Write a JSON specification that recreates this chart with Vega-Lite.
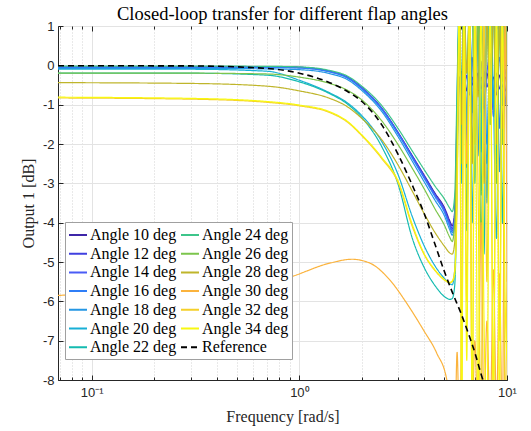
{
  "$schema": "https://vega.github.io/schema/vega-lite/v6.json",
  "width": 449,
  "height": 354,
  "autosize": "none",
  "padding": {"left": 58, "top": 26, "right": 24, "bottom": 51},
  "background": "white",
  "title": {"text": "Closed-loop transfer for different flap angles", "font": "Liberation Serif", "fontSize": 18.5, "fontWeight": "normal", "color": "#000000", "offset": 5, "dy": 8},
  "data": {"values": [
    {"s":"Angle 10 deg","f":0.0688,"v":-0.03},{"s":"Angle 10 deg","f":0.3,"v":-0.03},{"s":"Angle 10 deg","f":0.7,"v":-0.035},{"s":"Angle 10 deg","f":1.0,"v":-0.05},{"s":"Angle 10 deg","f":1.4,"v":-0.15},{"s":"Angle 10 deg","f":1.7,"v":-0.3},{"s":"Angle 10 deg","f":2.0,"v":-0.57},{"s":"Angle 10 deg","f":2.5,"v":-1.1},{"s":"Angle 10 deg","f":3.0,"v":-1.72},{"s":"Angle 10 deg","f":3.5,"v":-2.3},{"s":"Angle 10 deg","f":4.0,"v":-2.8},{"s":"Angle 10 deg","f":4.5,"v":-3.25},{"s":"Angle 10 deg","f":5.0,"v":-3.62},{"s":"Angle 10 deg","f":5.3,"v":-3.95},{"s":"Angle 10 deg","f":5.45,"v":-4.08},
    {"s":"Angle 10 deg","f":5.6,"v":-3.7},{"s":"Angle 10 deg","f":5.75,"v":-1.8},{"s":"Angle 10 deg","f":5.9,"v":-0.3},{"s":"Angle 10 deg","f":6.05,"v":-0.55},{"s":"Angle 10 deg","f":6.2,"v":-0.2},{"s":"Angle 10 deg","f":6.4,"v":-0.65},{"s":"Angle 10 deg","f":6.6,"v":-0.15},{"s":"Angle 10 deg","f":6.8,"v":-0.5},{"s":"Angle 10 deg","f":7.0,"v":-0.25},{"s":"Angle 10 deg","f":7.25,"v":-0.7},{"s":"Angle 10 deg","f":7.5,"v":-0.3},{"s":"Angle 10 deg","f":7.75,"v":-0.55},{"s":"Angle 10 deg","f":8.0,"v":-0.2},{"s":"Angle 10 deg","f":8.3,"v":-0.6},{"s":"Angle 10 deg","f":8.6,"v":-0.3},{"s":"Angle 10 deg","f":8.9,"v":-0.75},{"s":"Angle 10 deg","f":9.2,"v":-0.25},{"s":"Angle 10 deg","f":9.5,"v":-0.55},{"s":"Angle 10 deg","f":9.8,"v":-0.3},{"s":"Angle 10 deg","f":10.0,"v":-0.5},

    {"s":"Angle 12 deg","f":0.0688,"v":-0.03},{"s":"Angle 12 deg","f":0.3,"v":-0.03},{"s":"Angle 12 deg","f":0.7,"v":-0.035},{"s":"Angle 12 deg","f":1.0,"v":-0.05},{"s":"Angle 12 deg","f":1.4,"v":-0.15},{"s":"Angle 12 deg","f":1.7,"v":-0.3},{"s":"Angle 12 deg","f":2.0,"v":-0.57},{"s":"Angle 12 deg","f":2.5,"v":-1.1},{"s":"Angle 12 deg","f":3.0,"v":-1.73},{"s":"Angle 12 deg","f":3.5,"v":-2.31},{"s":"Angle 12 deg","f":4.0,"v":-2.82},{"s":"Angle 12 deg","f":4.5,"v":-3.28},{"s":"Angle 12 deg","f":5.0,"v":-3.66},{"s":"Angle 12 deg","f":5.3,"v":-4.0},{"s":"Angle 12 deg","f":5.45,"v":-4.15},
    {"s":"Angle 12 deg","f":5.6,"v":-3.8},{"s":"Angle 12 deg","f":5.75,"v":-2.0},{"s":"Angle 12 deg","f":5.9,"v":-0.5},{"s":"Angle 12 deg","f":6.05,"v":-0.15},{"s":"Angle 12 deg","f":6.2,"v":-0.7},{"s":"Angle 12 deg","f":6.4,"v":-0.25},{"s":"Angle 12 deg","f":6.6,"v":-0.75},{"s":"Angle 12 deg","f":6.8,"v":-0.3},{"s":"Angle 12 deg","f":7.0,"v":-0.7},{"s":"Angle 12 deg","f":7.25,"v":-0.2},{"s":"Angle 12 deg","f":7.5,"v":-0.6},{"s":"Angle 12 deg","f":7.75,"v":-0.15},{"s":"Angle 12 deg","f":8.0,"v":-0.55},{"s":"Angle 12 deg","f":8.3,"v":-0.25},{"s":"Angle 12 deg","f":8.6,"v":-0.7},{"s":"Angle 12 deg","f":8.9,"v":-0.2},{"s":"Angle 12 deg","f":9.2,"v":-0.6},{"s":"Angle 12 deg","f":9.5,"v":-0.3},{"s":"Angle 12 deg","f":9.8,"v":-0.65},{"s":"Angle 12 deg","f":10.0,"v":-0.4},

    {"s":"Angle 14 deg","f":0.0688,"v":-0.04},{"s":"Angle 14 deg","f":0.3,"v":-0.04},{"s":"Angle 14 deg","f":0.7,"v":-0.045},{"s":"Angle 14 deg","f":1.0,"v":-0.06},{"s":"Angle 14 deg","f":1.4,"v":-0.16},{"s":"Angle 14 deg","f":1.7,"v":-0.31},{"s":"Angle 14 deg","f":2.0,"v":-0.58},{"s":"Angle 14 deg","f":2.5,"v":-1.11},{"s":"Angle 14 deg","f":3.0,"v":-1.74},{"s":"Angle 14 deg","f":3.5,"v":-2.33},{"s":"Angle 14 deg","f":4.0,"v":-2.85},{"s":"Angle 14 deg","f":4.5,"v":-3.3},{"s":"Angle 14 deg","f":5.0,"v":-3.7},{"s":"Angle 14 deg","f":5.3,"v":-4.05},{"s":"Angle 14 deg","f":5.45,"v":-4.2},
    {"s":"Angle 14 deg","f":5.6,"v":-3.85},{"s":"Angle 14 deg","f":5.75,"v":-1.5},{"s":"Angle 14 deg","f":5.9,"v":0.3},{"s":"Angle 14 deg","f":6.05,"v":-0.9},{"s":"Angle 14 deg","f":6.2,"v":0.1},{"s":"Angle 14 deg","f":6.4,"v":-1.2},{"s":"Angle 14 deg","f":6.6,"v":-0.3},{"s":"Angle 14 deg","f":6.8,"v":0.2},{"s":"Angle 14 deg","f":7.0,"v":-1.4},{"s":"Angle 14 deg","f":7.25,"v":-0.4},{"s":"Angle 14 deg","f":7.5,"v":0.1},{"s":"Angle 14 deg","f":7.75,"v":-1.1},{"s":"Angle 14 deg","f":8.0,"v":-0.2},{"s":"Angle 14 deg","f":8.3,"v":0.3},{"s":"Angle 14 deg","f":8.6,"v":-1.3},{"s":"Angle 14 deg","f":8.9,"v":-0.5},{"s":"Angle 14 deg","f":9.2,"v":0.2},{"s":"Angle 14 deg","f":9.5,"v":-1.0},{"s":"Angle 14 deg","f":9.8,"v":-0.1},{"s":"Angle 14 deg","f":10.0,"v":-0.6},

    {"s":"Angle 16 deg","f":0.0688,"v":-0.05},{"s":"Angle 16 deg","f":0.3,"v":-0.05},{"s":"Angle 16 deg","f":0.7,"v":-0.055},{"s":"Angle 16 deg","f":1.0,"v":-0.07},{"s":"Angle 16 deg","f":1.4,"v":-0.17},{"s":"Angle 16 deg","f":1.7,"v":-0.32},{"s":"Angle 16 deg","f":2.0,"v":-0.6},{"s":"Angle 16 deg","f":2.5,"v":-1.13},{"s":"Angle 16 deg","f":3.0,"v":-1.76},{"s":"Angle 16 deg","f":3.5,"v":-2.36},{"s":"Angle 16 deg","f":4.0,"v":-2.88},{"s":"Angle 16 deg","f":4.5,"v":-3.34},{"s":"Angle 16 deg","f":5.0,"v":-3.74},{"s":"Angle 16 deg","f":5.3,"v":-4.1},{"s":"Angle 16 deg","f":5.45,"v":-4.25},
    {"s":"Angle 16 deg","f":5.6,"v":-3.9},{"s":"Angle 16 deg","f":5.75,"v":-1.2},{"s":"Angle 16 deg","f":5.9,"v":1.2},{"s":"Angle 16 deg","f":6.05,"v":-1.5},{"s":"Angle 16 deg","f":6.2,"v":0.6},{"s":"Angle 16 deg","f":6.4,"v":-1.9},{"s":"Angle 16 deg","f":6.6,"v":1.1},{"s":"Angle 16 deg","f":6.8,"v":-0.8},{"s":"Angle 16 deg","f":7.0,"v":-1.8},{"s":"Angle 16 deg","f":7.25,"v":0.8},{"s":"Angle 16 deg","f":7.5,"v":-1.2},{"s":"Angle 16 deg","f":7.75,"v":0.5},{"s":"Angle 16 deg","f":8.0,"v":-2.0},{"s":"Angle 16 deg","f":8.3,"v":0.2},{"s":"Angle 16 deg","f":8.6,"v":-0.9},{"s":"Angle 16 deg","f":8.9,"v":1.0},{"s":"Angle 16 deg","f":9.2,"v":-1.6},{"s":"Angle 16 deg","f":9.5,"v":0.4},{"s":"Angle 16 deg","f":9.8,"v":-1.0},{"s":"Angle 16 deg","f":10.0,"v":0.3},

    {"s":"Angle 18 deg","f":0.0688,"v":-0.08},{"s":"Angle 18 deg","f":0.3,"v":-0.08},{"s":"Angle 18 deg","f":0.7,"v":-0.09},{"s":"Angle 18 deg","f":1.0,"v":-0.11},{"s":"Angle 18 deg","f":1.4,"v":-0.21},{"s":"Angle 18 deg","f":1.7,"v":-0.36},{"s":"Angle 18 deg","f":2.0,"v":-0.64},{"s":"Angle 18 deg","f":2.5,"v":-1.18},{"s":"Angle 18 deg","f":3.0,"v":-1.83},{"s":"Angle 18 deg","f":3.5,"v":-2.44},{"s":"Angle 18 deg","f":4.0,"v":-2.97},{"s":"Angle 18 deg","f":4.5,"v":-3.43},{"s":"Angle 18 deg","f":5.0,"v":-3.83},{"s":"Angle 18 deg","f":5.3,"v":-4.18},{"s":"Angle 18 deg","f":5.45,"v":-4.32},
    {"s":"Angle 18 deg","f":5.6,"v":-3.95},{"s":"Angle 18 deg","f":5.75,"v":-0.8},{"s":"Angle 18 deg","f":5.9,"v":1.5},{"s":"Angle 18 deg","f":6.05,"v":-2.0},{"s":"Angle 18 deg","f":6.2,"v":0.8},{"s":"Angle 18 deg","f":6.4,"v":-2.6},{"s":"Angle 18 deg","f":6.6,"v":1.3},{"s":"Angle 18 deg","f":6.8,"v":-1.2},{"s":"Angle 18 deg","f":7.0,"v":0.5},{"s":"Angle 18 deg","f":7.25,"v":-2.3},{"s":"Angle 18 deg","f":7.5,"v":1.2},{"s":"Angle 18 deg","f":7.75,"v":-0.6},{"s":"Angle 18 deg","f":8.0,"v":-2.5},{"s":"Angle 18 deg","f":8.3,"v":0.9},{"s":"Angle 18 deg","f":8.6,"v":-1.0},{"s":"Angle 18 deg","f":8.9,"v":1.4},{"s":"Angle 18 deg","f":9.2,"v":-2.7},{"s":"Angle 18 deg","f":9.5,"v":0.2},{"s":"Angle 18 deg","f":9.8,"v":1.2},{"s":"Angle 18 deg","f":10.0,"v":-1.0},

    {"s":"Angle 20 deg","f":0.0688,"v":-0.1},{"s":"Angle 20 deg","f":0.3,"v":-0.1},{"s":"Angle 20 deg","f":0.7,"v":-0.15},{"s":"Angle 20 deg","f":1.0,"v":-0.38},{"s":"Angle 20 deg","f":1.4,"v":-0.7},{"s":"Angle 20 deg","f":1.7,"v":-0.95},{"s":"Angle 20 deg","f":2.0,"v":-1.28},{"s":"Angle 20 deg","f":2.5,"v":-1.95},{"s":"Angle 20 deg","f":3.0,"v":-2.8},{"s":"Angle 20 deg","f":3.5,"v":-3.85},{"s":"Angle 20 deg","f":4.0,"v":-4.6},{"s":"Angle 20 deg","f":4.5,"v":-5.1},{"s":"Angle 20 deg","f":5.0,"v":-5.42},{"s":"Angle 20 deg","f":5.3,"v":-5.55},{"s":"Angle 20 deg","f":5.45,"v":-5.58},
    {"s":"Angle 20 deg","f":5.6,"v":-5.2},{"s":"Angle 20 deg","f":5.75,"v":-2.5},{"s":"Angle 20 deg","f":5.9,"v":1.8},{"s":"Angle 20 deg","f":6.05,"v":-3.0},{"s":"Angle 20 deg","f":6.2,"v":1.5},{"s":"Angle 20 deg","f":6.4,"v":-1.5},{"s":"Angle 20 deg","f":6.6,"v":1.8},{"s":"Angle 20 deg","f":6.8,"v":-4.0},{"s":"Angle 20 deg","f":7.0,"v":0.5},{"s":"Angle 20 deg","f":7.25,"v":1.6},{"s":"Angle 20 deg","f":7.5,"v":-2.2},{"s":"Angle 20 deg","f":7.75,"v":1.5},{"s":"Angle 20 deg","f":8.0,"v":-3.5},{"s":"Angle 20 deg","f":8.3,"v":1.8},{"s":"Angle 20 deg","f":8.6,"v":-0.8},{"s":"Angle 20 deg","f":8.9,"v":-4.4},{"s":"Angle 20 deg","f":9.2,"v":1.6},{"s":"Angle 20 deg","f":9.5,"v":-1.0},{"s":"Angle 20 deg","f":9.8,"v":1.5},{"s":"Angle 20 deg","f":10.0,"v":-2.0},

    {"s":"Angle 22 deg","f":0.0688,"v":-0.2},{"s":"Angle 22 deg","f":0.3,"v":-0.2},{"s":"Angle 22 deg","f":0.7,"v":-0.25},{"s":"Angle 22 deg","f":1.0,"v":-0.42},{"s":"Angle 22 deg","f":1.4,"v":-0.72},{"s":"Angle 22 deg","f":1.7,"v":-0.98},{"s":"Angle 22 deg","f":2.0,"v":-1.33},{"s":"Angle 22 deg","f":2.5,"v":-2.08},{"s":"Angle 22 deg","f":3.0,"v":-3.05},{"s":"Angle 22 deg","f":3.5,"v":-4.4},{"s":"Angle 22 deg","f":4.0,"v":-5.15},{"s":"Angle 22 deg","f":4.5,"v":-5.6},{"s":"Angle 22 deg","f":5.0,"v":-5.88},{"s":"Angle 22 deg","f":5.3,"v":-5.95},{"s":"Angle 22 deg","f":5.45,"v":-5.93},
    {"s":"Angle 22 deg","f":5.6,"v":-5.6},{"s":"Angle 22 deg","f":5.75,"v":-3.0},{"s":"Angle 22 deg","f":5.9,"v":1.6},{"s":"Angle 22 deg","f":6.05,"v":-1.0},{"s":"Angle 22 deg","f":6.2,"v":2.0},{"s":"Angle 22 deg","f":6.4,"v":-4.2},{"s":"Angle 22 deg","f":6.6,"v":1.0},{"s":"Angle 22 deg","f":6.8,"v":1.8},{"s":"Angle 22 deg","f":7.0,"v":-3.0},{"s":"Angle 22 deg","f":7.25,"v":1.5},{"s":"Angle 22 deg","f":7.5,"v":-0.5},{"s":"Angle 22 deg","f":7.75,"v":-4.8},{"s":"Angle 22 deg","f":8.0,"v":1.7},{"s":"Angle 22 deg","f":8.3,"v":-1.5},{"s":"Angle 22 deg","f":8.6,"v":1.8},{"s":"Angle 22 deg","f":8.9,"v":-2.5},{"s":"Angle 22 deg","f":9.2,"v":1.5},{"s":"Angle 22 deg","f":9.5,"v":-4.0},{"s":"Angle 22 deg","f":9.8,"v":1.2},{"s":"Angle 22 deg","f":10.0,"v":0.0},

    {"s":"Angle 24 deg","f":0.0688,"v":-0.02},{"s":"Angle 24 deg","f":0.3,"v":-0.02},{"s":"Angle 24 deg","f":0.7,"v":-0.025},{"s":"Angle 24 deg","f":1.0,"v":-0.04},{"s":"Angle 24 deg","f":1.4,"v":-0.13},{"s":"Angle 24 deg","f":1.7,"v":-0.27},{"s":"Angle 24 deg","f":2.0,"v":-0.53},{"s":"Angle 24 deg","f":2.5,"v":-1.03},{"s":"Angle 24 deg","f":3.0,"v":-1.62},{"s":"Angle 24 deg","f":3.5,"v":-2.18},{"s":"Angle 24 deg","f":4.0,"v":-2.66},{"s":"Angle 24 deg","f":4.5,"v":-3.07},{"s":"Angle 24 deg","f":5.0,"v":-3.4},{"s":"Angle 24 deg","f":5.3,"v":-3.63},{"s":"Angle 24 deg","f":5.45,"v":-3.72},
    {"s":"Angle 24 deg","f":5.6,"v":-3.3},{"s":"Angle 24 deg","f":5.75,"v":-0.5},{"s":"Angle 24 deg","f":5.9,"v":1.8},{"s":"Angle 24 deg","f":6.05,"v":-1.0},{"s":"Angle 24 deg","f":6.2,"v":2.0},{"s":"Angle 24 deg","f":6.4,"v":-0.2},{"s":"Angle 24 deg","f":6.6,"v":1.5},{"s":"Angle 24 deg","f":6.8,"v":-2.2},{"s":"Angle 24 deg","f":7.0,"v":0.8},{"s":"Angle 24 deg","f":7.25,"v":1.8},{"s":"Angle 24 deg","f":7.5,"v":-3.3},{"s":"Angle 24 deg","f":7.75,"v":1.0},{"s":"Angle 24 deg","f":8.0,"v":1.5},{"s":"Angle 24 deg","f":8.3,"v":-0.6},{"s":"Angle 24 deg","f":8.6,"v":1.6},{"s":"Angle 24 deg","f":8.9,"v":-1.8},{"s":"Angle 24 deg","f":9.2,"v":2.0},{"s":"Angle 24 deg","f":9.5,"v":-0.4},{"s":"Angle 24 deg","f":9.8,"v":1.5},{"s":"Angle 24 deg","f":10.0,"v":-0.8},

    {"s":"Angle 26 deg","f":0.0688,"v":-0.2},{"s":"Angle 26 deg","f":0.3,"v":-0.2},{"s":"Angle 26 deg","f":0.7,"v":-0.22},{"s":"Angle 26 deg","f":1.0,"v":-0.3},{"s":"Angle 26 deg","f":1.4,"v":-0.46},{"s":"Angle 26 deg","f":1.7,"v":-0.63},{"s":"Angle 26 deg","f":2.0,"v":-0.88},{"s":"Angle 26 deg","f":2.5,"v":-1.42},{"s":"Angle 26 deg","f":3.0,"v":-2.03},{"s":"Angle 26 deg","f":3.5,"v":-2.62},{"s":"Angle 26 deg","f":4.0,"v":-3.15},{"s":"Angle 26 deg","f":4.5,"v":-3.65},{"s":"Angle 26 deg","f":5.0,"v":-4.07},{"s":"Angle 26 deg","f":5.3,"v":-4.37},{"s":"Angle 26 deg","f":5.45,"v":-4.48},
    {"s":"Angle 26 deg","f":5.6,"v":-4.0},{"s":"Angle 26 deg","f":5.75,"v":-1.8},{"s":"Angle 26 deg","f":5.9,"v":1.5},{"s":"Angle 26 deg","f":6.05,"v":-2.5},{"s":"Angle 26 deg","f":6.2,"v":1.2},{"s":"Angle 26 deg","f":6.4,"v":-4.0},{"s":"Angle 26 deg","f":6.6,"v":0.8},{"s":"Angle 26 deg","f":6.8,"v":1.6},{"s":"Angle 26 deg","f":7.0,"v":-2.0},{"s":"Angle 26 deg","f":7.25,"v":1.2},{"s":"Angle 26 deg","f":7.5,"v":-4.5},{"s":"Angle 26 deg","f":7.75,"v":0.5},{"s":"Angle 26 deg","f":8.0,"v":1.4},{"s":"Angle 26 deg","f":8.3,"v":-1.5},{"s":"Angle 26 deg","f":8.6,"v":1.6},{"s":"Angle 26 deg","f":8.9,"v":-3.0},{"s":"Angle 26 deg","f":9.2,"v":1.0},{"s":"Angle 26 deg","f":9.5,"v":-2.0},{"s":"Angle 26 deg","f":9.8,"v":1.4},{"s":"Angle 26 deg","f":10.0,"v":-1.0},

    {"s":"Angle 28 deg","f":0.0688,"v":-0.44},{"s":"Angle 28 deg","f":0.3,"v":-0.46},{"s":"Angle 28 deg","f":0.7,"v":-0.53},{"s":"Angle 28 deg","f":1.0,"v":-0.65},{"s":"Angle 28 deg","f":1.4,"v":-0.84},{"s":"Angle 28 deg","f":1.7,"v":-1.05},{"s":"Angle 28 deg","f":2.0,"v":-1.35},{"s":"Angle 28 deg","f":2.5,"v":-1.9},{"s":"Angle 28 deg","f":3.0,"v":-2.55},{"s":"Angle 28 deg","f":3.5,"v":-3.2},{"s":"Angle 28 deg","f":4.0,"v":-3.78},{"s":"Angle 28 deg","f":4.5,"v":-4.25},{"s":"Angle 28 deg","f":5.0,"v":-4.6},{"s":"Angle 28 deg","f":5.3,"v":-4.77},{"s":"Angle 28 deg","f":5.45,"v":-4.8},
    {"s":"Angle 28 deg","f":5.6,"v":-4.5},{"s":"Angle 28 deg","f":5.75,"v":-2.0},{"s":"Angle 28 deg","f":5.9,"v":1.4},{"s":"Angle 28 deg","f":6.05,"v":-1.5},{"s":"Angle 28 deg","f":6.2,"v":1.6},{"s":"Angle 28 deg","f":6.4,"v":-0.2},{"s":"Angle 28 deg","f":6.6,"v":1.5},{"s":"Angle 28 deg","f":6.8,"v":-2.5},{"s":"Angle 28 deg","f":7.0,"v":1.3},{"s":"Angle 28 deg","f":7.25,"v":-0.8},{"s":"Angle 28 deg","f":7.5,"v":1.6},{"s":"Angle 28 deg","f":7.75,"v":-3.0},{"s":"Angle 28 deg","f":8.0,"v":1.2},{"s":"Angle 28 deg","f":8.3,"v":-1.2},{"s":"Angle 28 deg","f":8.6,"v":1.5},{"s":"Angle 28 deg","f":8.9,"v":-2.0},{"s":"Angle 28 deg","f":9.2,"v":1.2},{"s":"Angle 28 deg","f":9.5,"v":-1.6},{"s":"Angle 28 deg","f":9.8,"v":1.3},{"s":"Angle 28 deg","f":10.0,"v":-1.0},

    {"s":"Angle 30 deg","f":0.0688,"v":-5.85},{"s":"Angle 30 deg","f":0.15,"v":-5.76},{"s":"Angle 30 deg","f":0.3,"v":-5.66},{"s":"Angle 30 deg","f":0.5,"v":-5.56},{"s":"Angle 30 deg","f":0.85,"v":-5.42},{"s":"Angle 30 deg","f":1.4,"v":-5.03},{"s":"Angle 30 deg","f":1.79,"v":-4.93},{"s":"Angle 30 deg","f":2.19,"v":-5.03},{"s":"Angle 30 deg","f":2.73,"v":-5.46},{"s":"Angle 30 deg","f":3.29,"v":-6.05},{"s":"Angle 30 deg","f":3.96,"v":-6.73},{"s":"Angle 30 deg","f":4.59,"v":-7.32},{"s":"Angle 30 deg","f":5.13,"v":-8.0},{"s":"Angle 30 deg","f":5.4,"v":-8.8},
    {"s":"Angle 30 deg","f":5.6,"v":-9.5},{"s":"Angle 30 deg","f":5.75,"v":-7.3},{"s":"Angle 30 deg","f":5.9,"v":-9.2},{"s":"Angle 30 deg","f":6.05,"v":-6.3},{"s":"Angle 30 deg","f":6.2,"v":1.5},{"s":"Angle 30 deg","f":6.4,"v":-2.5},{"s":"Angle 30 deg","f":6.6,"v":1.3},{"s":"Angle 30 deg","f":6.8,"v":-9.0},{"s":"Angle 30 deg","f":7.0,"v":-7.0},{"s":"Angle 30 deg","f":7.25,"v":-9.2},{"s":"Angle 30 deg","f":7.5,"v":-4.0},{"s":"Angle 30 deg","f":7.75,"v":-9.0},{"s":"Angle 30 deg","f":8.0,"v":-6.5},{"s":"Angle 30 deg","f":8.3,"v":-9.0},{"s":"Angle 30 deg","f":8.6,"v":-5.2},{"s":"Angle 30 deg","f":8.9,"v":-8.8},{"s":"Angle 30 deg","f":9.2,"v":-5.3},{"s":"Angle 30 deg","f":9.5,"v":-9.2},{"s":"Angle 30 deg","f":9.8,"v":1.2},{"s":"Angle 30 deg","f":10.0,"v":-5.5},

    {"s":"Angle 32 deg","f":0.0688,"v":-0.83},{"s":"Angle 32 deg","f":0.3,"v":-0.86},{"s":"Angle 32 deg","f":0.7,"v":-0.94},{"s":"Angle 32 deg","f":1.0,"v":-1.03},{"s":"Angle 32 deg","f":1.4,"v":-1.2},{"s":"Angle 32 deg","f":1.7,"v":-1.44},{"s":"Angle 32 deg","f":2.0,"v":-1.79},{"s":"Angle 32 deg","f":2.5,"v":-2.38},{"s":"Angle 32 deg","f":3.0,"v":-3.0},{"s":"Angle 32 deg","f":3.5,"v":-4.1},{"s":"Angle 32 deg","f":4.0,"v":-4.82},{"s":"Angle 32 deg","f":4.5,"v":-5.22},{"s":"Angle 32 deg","f":5.0,"v":-5.46},{"s":"Angle 32 deg","f":5.3,"v":-5.53},{"s":"Angle 32 deg","f":5.45,"v":-5.5},
    {"s":"Angle 32 deg","f":5.6,"v":-5.2},{"s":"Angle 32 deg","f":5.75,"v":-3.5},{"s":"Angle 32 deg","f":5.9,"v":1.5},{"s":"Angle 32 deg","f":6.05,"v":-8.5},{"s":"Angle 32 deg","f":6.2,"v":1.8},{"s":"Angle 32 deg","f":6.4,"v":-6.0},{"s":"Angle 32 deg","f":6.6,"v":1.5},{"s":"Angle 32 deg","f":6.8,"v":-9.0},{"s":"Angle 32 deg","f":7.0,"v":1.6},{"s":"Angle 32 deg","f":7.25,"v":-3.0},{"s":"Angle 32 deg","f":7.5,"v":-9.0},{"s":"Angle 32 deg","f":7.75,"v":1.5},{"s":"Angle 32 deg","f":8.0,"v":-5.5},{"s":"Angle 32 deg","f":8.3,"v":1.6},{"s":"Angle 32 deg","f":8.6,"v":-9.0},{"s":"Angle 32 deg","f":8.9,"v":1.2},{"s":"Angle 32 deg","f":9.2,"v":-7.0},{"s":"Angle 32 deg","f":9.5,"v":1.6},{"s":"Angle 32 deg","f":9.8,"v":-9.0},{"s":"Angle 32 deg","f":10.0,"v":-5.0},

    {"s":"Angle 34 deg","f":0.0688,"v":-0.81},{"s":"Angle 34 deg","f":0.3,"v":-0.84},{"s":"Angle 34 deg","f":0.7,"v":-0.92},{"s":"Angle 34 deg","f":1.0,"v":-1.01},{"s":"Angle 34 deg","f":1.4,"v":-1.18},{"s":"Angle 34 deg","f":1.7,"v":-1.42},{"s":"Angle 34 deg","f":2.0,"v":-1.77},{"s":"Angle 34 deg","f":2.5,"v":-2.35},{"s":"Angle 34 deg","f":3.0,"v":-2.96},{"s":"Angle 34 deg","f":3.5,"v":-4.05},{"s":"Angle 34 deg","f":4.0,"v":-4.8},{"s":"Angle 34 deg","f":4.5,"v":-5.2},{"s":"Angle 34 deg","f":5.0,"v":-5.45},{"s":"Angle 34 deg","f":5.3,"v":-5.52},{"s":"Angle 34 deg","f":5.45,"v":-5.48},
    {"s":"Angle 34 deg","f":5.6,"v":-5.3},{"s":"Angle 34 deg","f":5.75,"v":-3.0},{"s":"Angle 34 deg","f":5.9,"v":1.8},{"s":"Angle 34 deg","f":6.05,"v":-9.0},{"s":"Angle 34 deg","f":6.2,"v":1.5},{"s":"Angle 34 deg","f":6.4,"v":-7.5},{"s":"Angle 34 deg","f":6.6,"v":2.0},{"s":"Angle 34 deg","f":6.8,"v":-9.0},{"s":"Angle 34 deg","f":7.0,"v":1.2},{"s":"Angle 34 deg","f":7.25,"v":-9.0},{"s":"Angle 34 deg","f":7.5,"v":1.8},{"s":"Angle 34 deg","f":7.75,"v":-6.5},{"s":"Angle 34 deg","f":8.0,"v":-9.0},{"s":"Angle 34 deg","f":8.3,"v":1.5},{"s":"Angle 34 deg","f":8.6,"v":-8.5},{"s":"Angle 34 deg","f":8.9,"v":1.8},{"s":"Angle 34 deg","f":9.2,"v":-9.0},{"s":"Angle 34 deg","f":9.5,"v":1.4},{"s":"Angle 34 deg","f":9.8,"v":-6.0},{"s":"Angle 34 deg","f":10.0,"v":-7.5},

    {"s":"Reference","f":0.0688,"v":-0.01},{"s":"Reference","f":0.3,"v":-0.015},{"s":"Reference","f":0.7,"v":-0.08},{"s":"Reference","f":1.0,"v":-0.2},{"s":"Reference","f":1.4,"v":-0.44},{"s":"Reference","f":1.7,"v":-0.66},{"s":"Reference","f":2.0,"v":-0.92},{"s":"Reference","f":2.5,"v":-1.52},{"s":"Reference","f":3.0,"v":-2.28},{"s":"Reference","f":3.5,"v":-3.05},{"s":"Reference","f":4.0,"v":-3.78},{"s":"Reference","f":4.5,"v":-4.55},{"s":"Reference","f":5.0,"v":-5.25},{"s":"Reference","f":5.5,"v":-5.82},{"s":"Reference","f":6.0,"v":-6.3},{"s":"Reference","f":6.5,"v":-6.8},{"s":"Reference","f":7.0,"v":-7.3},{"s":"Reference","f":7.5,"v":-7.85},{"s":"Reference","f":8.0,"v":-8.3}
  ]},
  "resolve": {"axis": {"x": "independent", "y": "independent"}},
  "layer": [
    {
      "mark": {"type": "line", "clip": true, "interpolate": "monotone"},
      "encoding": {
        "x": {"field": "f", "type": "quantitative", "scale": {"type": "log", "domain": [0.0688, 10], "nice": false},
          "axis": {"orient": "bottom", "title": "Frequency [rad/s]",
            "values": [0.07,0.08,0.09,0.1,0.2,0.3,0.4,0.5,0.6,0.7,0.8,0.9,1,2,3,4,5,6,7,8,9,10],
            "labelExpr": "datum.value == 0.1 ? '10⁻¹' : datum.value == 1 ? '10⁰' : datum.value == 10 ? '10¹' : ''",
            "tickSize": {"condition": {"test": "datum.value == 0.1 || datum.value == 1 || datum.value == 10", "value": -5}, "value": -3},
            "gridColor": {"condition": {"test": "datum.value == 0.1 || datum.value == 1 || datum.value == 10", "value": "#e3e3e3"}, "value": "#d2d2d2"},
            "gridDash": {"condition": {"test": "datum.value == 0.1 || datum.value == 1 || datum.value == 10", "value": []}, "value": [1, 2]},
            "labelPadding": 11, "titlePadding": 7, "labelFlush": false, "labelOverlap": false}},
        "y": {"field": "v", "type": "quantitative", "scale": {"domain": [-8, 1], "nice": false, "zero": false},
          "axis": {"orient": "left", "title": "Output 1 [dB]", "values": [-8,-7,-6,-5,-4,-3,-2,-1,0,1],
            "labelExpr": "'' + datum.value", "tickSize": -5, "gridColor": "#e3e3e3", "labelPadding": 9, "titlePadding": 6}},
        "color": {"field": "s", "type": "nominal", "title": null,
          "scale": {"domain": ["Angle 10 deg","Angle 12 deg","Angle 14 deg","Angle 16 deg","Angle 18 deg","Angle 20 deg","Angle 22 deg","Angle 24 deg","Angle 26 deg","Angle 28 deg","Angle 30 deg","Angle 32 deg","Angle 34 deg","Reference"],
            "range": ["#3e26a8","#4040e0","#4a5cf6","#2f7ef7","#2597e4","#18afd6","#14bbb0","#3dc58a","#7cc54c","#bfb52b","#fbb33d","#f5d02a","#f8f810","#000000"]},
          "legend": {"orient": "none", "legendX": 7, "legendY": 196, "columns": 2}},
        "strokeDash": {"field": "s", "type": "nominal", "title": null,
          "scale": {"domain": ["Angle 10 deg","Angle 12 deg","Angle 14 deg","Angle 16 deg","Angle 18 deg","Angle 20 deg","Angle 22 deg","Angle 24 deg","Angle 26 deg","Angle 28 deg","Angle 30 deg","Angle 32 deg","Angle 34 deg","Reference"],
            "range": [[1,0],[1,0],[1,0],[1,0],[1,0],[1,0],[1,0],[1,0],[1,0],[1,0],[1,0],[1,0],[1,0],[6,4]]},
          "legend": {"orient": "none", "legendX": 7, "legendY": 196, "columns": 2}},
        "strokeWidth": {"condition": {"test": "datum.s == 'Reference'", "value": 1.6}, "value": 1.2}
      }
    },
    {
      "mark": {"type": "point", "opacity": 0, "clip": true},
      "encoding": {
        "x": {"field": "f", "type": "quantitative", "scale": {"type": "log", "domain": [0.0688, 10], "nice": false},
          "axis": {"orient": "top", "title": null, "labels": false, "grid": false, "domain": false, "minExtent": 0, "maxExtent": 0,
            "values": [0.07,0.08,0.09,0.1,0.2,0.3,0.4,0.5,0.6,0.7,0.8,0.9,1,2,3,4,5,6,7,8,9,10],
            "tickSize": {"condition": {"test": "datum.value == 0.1 || datum.value == 1 || datum.value == 10", "value": -5}, "value": -3}}},
        "y": {"field": "v", "type": "quantitative", "scale": {"domain": [-8, 1], "nice": false, "zero": false},
          "axis": {"orient": "right", "title": null, "labels": false, "grid": false, "domain": false, "minExtent": 0, "maxExtent": 0, "values": [-8,-7,-6,-5,-4,-3,-2,-1,0,1], "tickSize": -5}}
      }
    }
  ],
  "config": {
    "view": {"stroke": "#262626", "strokeWidth": 1},
    "axis": {"domainColor": "#262626", "tickColor": "#262626", "labelColor": "#262626", "labelFont": "Liberation Sans", "labelFontSize": 13,
      "titleFont": "Liberation Serif", "titleFontSize": 16, "titleFontWeight": "normal", "titleColor": "#262626", "gridWidth": 1},
    "legend": {"fillColor": "#ffffff", "strokeColor": "#a0a0a0", "padding": 3, "rowPadding": 0.7, "columnPadding": 0,
      "labelFont": "Liberation Serif", "labelFontSize": 16, "labelColor": "#000000", "symbolType": "stroke", "symbolSize": 324,
      "symbolStrokeWidth": 2, "labelOffset": 2, "labelLimit": 0, "cornerRadius": 0}
  }
}
